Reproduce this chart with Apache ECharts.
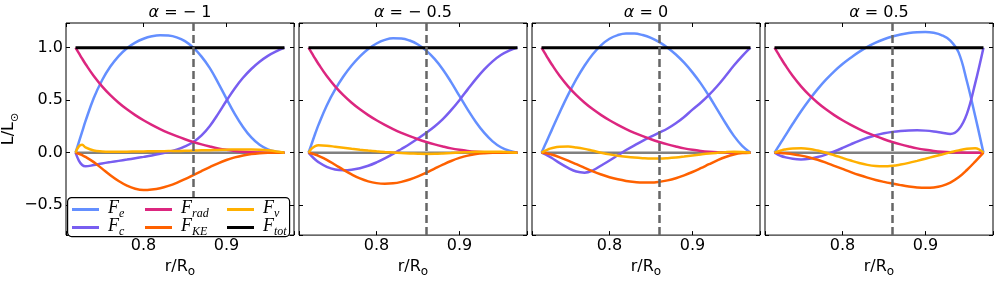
<!DOCTYPE html>
<html><head><meta charset="utf-8">
<script src="https://cdn.jsdelivr.net/npm/echarts@6/dist/echarts.min.js"></script>
<style>html,body{margin:0;padding:0;background:#fff}#c{width:997px;height:283px}</style>
</head><body><div id="c"></div>
<script>
// ---------- data ----------
const r = [0.718,0.722,0.726,0.73,0.74,0.75,0.76,0.77,0.78,0.79,0.80,0.81,0.82,0.83,0.84,0.85,0.86,0.87,0.88,0.89,0.90,0.91,0.92,0.93,0.94,0.95,0.96,0.97];
const rcz = 0.86;
const alphaLabels = ['− 1', '− 0.5', '0', '0.5'];
const xTicks = [0.8, 0.9];
const xTickText = ['0.8', '0.9'];
const yTicks = [-0.5, 0, 0.5, 1.0];
const yTickText = ['−0.5', '0.0', '0.5', '1.0'];

// radiative flux (same in every panel)
const Frad = [1.0,0.948,0.895,0.845,0.73,0.632,0.548,0.476,0.413,0.358,0.309,0.265,0.225,0.189,0.157,0.128,0.102,0.079,0.059,0.041,0.027,0.016,0.008,0.003,0.001,0,0,0];
// total
const Ftot = [1,1,1,1,1,1,1,1,1,1,1,1,1,1,1,1,1,1,1,1,1,1,1,1,1,1,1,1];

// alpha = -1
const Fe_m1  = [0,0.10,0.20,0.30,0.52,0.69,0.82,0.92,0.995,1.048,1.085,1.108,1.118,1.115,1.098,1.062,1.0,0.915,0.805,0.665,0.515,0.37,0.245,0.145,0.075,0.032,0.01,0];
const Fc_m1  = [0,-0.075,-0.118,-0.13,-0.118,-0.103,-0.09,-0.078,-0.066,-0.053,-0.04,-0.026,-0.01,0.007,0.029,0.06,0.102,0.165,0.255,0.37,0.495,0.612,0.713,0.797,0.866,0.922,0.965,1.0];
const FKE_m1 = [0,-0.01,-0.024,-0.04,-0.09,-0.152,-0.215,-0.27,-0.314,-0.343,-0.355,-0.35,-0.338,-0.316,-0.287,-0.252,-0.214,-0.175,-0.137,-0.101,-0.07,-0.045,-0.026,-0.013,-0.005,-0.001,0,0];
const Fnu_m1 = [0,0.06,0.075,0.05,0.02,0.012,0.01,0.01,0.01,0.011,0.012,0.013,0.014,0.015,0.016,0.018,0.02,0.022,0.024,0.026,0.028,0.03,0.031,0.031,0.029,0.023,0.012,0];
// alpha = -0.5
const Fe_m05  = [0,0.09,0.18,0.265,0.45,0.6,0.725,0.83,0.918,0.988,1.04,1.074,1.09,1.088,1.068,1.03,0.972,0.893,0.793,0.672,0.54,0.41,0.29,0.188,0.108,0.052,0.018,0];
const Fc_m05  = [0,-0.035,-0.065,-0.09,-0.135,-0.16,-0.167,-0.162,-0.148,-0.125,-0.093,-0.055,-0.012,0.035,0.083,0.135,0.19,0.25,0.32,0.405,0.5,0.603,0.703,0.793,0.87,0.93,0.972,1.0];
const FKE_m05 = [0,-0.008,-0.018,-0.03,-0.068,-0.115,-0.163,-0.207,-0.245,-0.273,-0.29,-0.296,-0.292,-0.278,-0.256,-0.226,-0.19,-0.152,-0.114,-0.079,-0.05,-0.028,-0.013,-0.005,-0.001,0,0,0];
const Fnu_m05 = [0,0.04,0.062,0.07,0.066,0.057,0.047,0.037,0.028,0.02,0.013,0.007,0.002,-0.003,-0.007,-0.01,-0.012,-0.011,-0.008,-0.004,0.001,0.005,0.008,0.01,0.01,0.008,0.004,0];
// alpha = 0
const Fe_0  = [0,0.07,0.14,0.21,0.385,0.55,0.7,0.83,0.94,1.025,1.085,1.12,1.135,1.135,1.12,1.093,1.053,1.0,0.935,0.857,0.765,0.66,0.54,0.41,0.28,0.16,0.065,0];
const Fc_0  = [0,-0.013,-0.03,-0.048,-0.1,-0.145,-0.18,-0.19,-0.168,-0.122,-0.075,-0.025,0.025,0.07,0.113,0.152,0.19,0.23,0.28,0.34,0.41,0.475,0.55,0.635,0.73,0.83,0.92,1.0];
const FKE_0 = [0,-0.004,-0.01,-0.018,-0.045,-0.076,-0.11,-0.145,-0.178,-0.208,-0.234,-0.254,-0.269,-0.279,-0.285,-0.285,-0.278,-0.264,-0.243,-0.216,-0.184,-0.148,-0.11,-0.073,-0.041,-0.017,-0.004,0];
const Fnu_0 = [0,0.018,0.032,0.042,0.056,0.058,0.05,0.036,0.018,0,-0.016,-0.029,-0.039,-0.047,-0.052,-0.055,-0.055,-0.052,-0.046,-0.037,-0.027,-0.017,-0.008,-0.001,0.005,0.008,0.006,0];
// alpha = 0.5
const Fe_p05  = [0,0.05,0.1,0.15,0.275,0.395,0.505,0.605,0.695,0.775,0.845,0.905,0.96,1.008,1.048,1.08,1.106,1.126,1.14,1.148,1.15,1.142,1.118,1.068,0.955,0.68,0.35,0];
const Fc_p05  = [0,-0.018,-0.032,-0.042,-0.058,-0.064,-0.058,-0.042,-0.018,0.012,0.045,0.08,0.113,0.142,0.166,0.185,0.198,0.207,0.212,0.213,0.21,0.202,0.19,0.178,0.22,0.37,0.66,1.0];
const FKE_p05 = [0,-0.001,-0.003,-0.006,-0.015,-0.028,-0.046,-0.068,-0.095,-0.125,-0.155,-0.185,-0.213,-0.238,-0.26,-0.278,-0.294,-0.309,-0.322,-0.331,-0.335,-0.331,-0.316,-0.285,-0.235,-0.165,-0.085,0];
const Fnu_p05 = [0,0.012,0.022,0.03,0.04,0.041,0.035,0.02,0,-0.024,-0.05,-0.075,-0.098,-0.116,-0.127,-0.13,-0.125,-0.113,-0.097,-0.078,-0.058,-0.037,-0.017,0.003,0.022,0.037,0.042,0];

const panelData = [
  {Fe:Fe_m1,  Fc:Fc_m1,  Frad:Frad, FKE:FKE_m1,  Fnu:Fnu_m1,  Ftot:Ftot},
  {Fe:Fe_m05, Fc:Fc_m05, Frad:Frad, FKE:FKE_m05, Fnu:Fnu_m05, Ftot:Ftot},
  {Fe:Fe_0,   Fc:Fc_0,   Frad:Frad, FKE:FKE_0,   Fnu:Fnu_0,   Ftot:Ftot},
  {Fe:Fe_p05, Fc:Fc_p05, Frad:Frad, FKE:FKE_p05, Fnu:Fnu_p05, Ftot:Ftot}
];

// ---------- styling / layout ----------
const XMIN = 0.7065, XMAX = 0.9815, YMIN = -0.785, YMAX = 1.235;
const colors = {Fe:'#648FFF', Fc:'#785EF0', Frad:'#DC267F', FKE:'#FE6100', Fnu:'#FFB000', Ftot:'#000000'};
const seriesOrder = ['Fe','Fc','Frad','FKE','Fnu','Ftot'];
const legendSub = {Fe:'e', Fc:'c', Frad:'rad', FKE:'KE', Fnu:'ν', Ftot:'tot'};
const gridLeft = [66, 299, 532, 765];
const FONT = 'DejaVu Sans';

const pick = (ticks, texts) => v => {
  for (let k = 0; k < ticks.length; k++) if (Math.abs(v - ticks[k]) < 1e-6) return texts[k];
  return '';
};

const grid = [], xAxis = [], yAxis = [], series = [];
gridLeft.forEach((l, i) => {
  grid.push({left:l, top:20, width:228, height:223, show:true, borderColor:'#000', borderWidth:1, backgroundColor:'rgba(0,0,0,0)'});
  const tick = {show:true, inside:true, length:4, lineStyle:{color:'#000', width:1}};
  xAxis.push({
    gridIndex:i, type:'value', position:'bottom', min:XMIN, max:XMAX, splitNumber:3,
    axisLine:{show:false, onZero:false}, axisTick:tick, splitLine:{show:false},
    axisLabel:{show:true, margin:3, fontFamily:FONT, fontSize:16, color:'#000', formatter:pick(xTicks, xTickText)},
    name:'{b|r/R}{o|o}', nameLocation:'middle', nameGap:18,
    nameTextStyle:{rich:{b:{fontFamily:FONT, fontSize:16, color:'#000', padding:[0,0,3,0]}, o:{fontFamily:FONT, fontSize:12, color:'#000', verticalAlign:'bottom'}}}
  });
  xAxis.push({
    gridIndex:i, type:'value', position:'top', min:XMIN, max:XMAX, splitNumber:3,
    axisLine:{show:false, onZero:false}, axisTick:tick, splitLine:{show:false}, axisLabel:{show:false},
    name:'{a|α}{b| = ' + alphaLabels[i] + '}', nameLocation:'middle', nameGap:2,
    nameTextStyle:{rich:{a:{fontFamily:FONT, fontStyle:'italic', fontSize:16, color:'#000'}, b:{fontFamily:FONT, fontSize:16, color:'#000'}}}
  });
  yAxis.push({
    gridIndex:i, type:'value', position:'left', min:YMIN, max:YMAX,
    axisLine:{show:false, onZero:false}, axisTick:tick, splitLine:{show:false},
    axisLabel:{show:i === 0, margin:3, fontFamily:FONT, fontSize:16, color:'#000', formatter:pick(yTicks, yTickText)},
    name: i === 0 ? '{b|L/L}{o|⊙}' : '', nameLocation:'middle', nameGap:41,
    nameTextStyle:{rich:{b:{fontFamily:FONT, fontSize:16, color:'#000', padding:[0,0,3,0]}, o:{fontFamily:FONT, fontSize:11, color:'#000', verticalAlign:'bottom'}}}
  });
  yAxis.push({
    gridIndex:i, type:'value', position:'right', min:YMIN, max:YMAX,
    axisLine:{show:false, onZero:false}, axisTick:tick, splitLine:{show:false}, axisLabel:{show:false}
  });

  // zero line spanning the data range
  series.push({
    type:'line', name:'zero', xAxisIndex:2*i, yAxisIndex:2*i, z:1, silent:true,
    data:[[r[0], 0], [r[r.length-1], 0]], showSymbol:false, symbol:'none',
    lineStyle:{color:'#808080', width:2.5}
  });
  const d = panelData[i];
  seriesOrder.forEach(key => {
    const vals = d[key];
    series.push({
      type:'line', name:key, xAxisIndex:2*i, yAxisIndex:2*i, z: key === 'Ftot' ? 4 : 3,
      data: r.map((x, k) => [x, vals[k]]), smooth:0.4, showSymbol:false, symbol:'none',
      lineStyle:{color:colors[key], width: key === 'Ftot' ? 3 : 2.5}, itemStyle:{color:colors[key]}
    });
  });
  // dashed vertical line at the base of the convection zone
  series.push({
    type:'line', name:'rcz', xAxisIndex:2*i, yAxisIndex:2*i, z:10, silent:true, data:[],
    markLine:{silent:true, symbol:['none','none'], label:{show:false},
      lineStyle:{color:'#666666', width:2.5, type:[8,4]}, data:[{xAxis:rcz}]}
  });
});

const legendPos = {Fe:[72,199], Fc:[72,217], Frad:[145,199], FKE:[145,217], Fnu:[227,199], Ftot:[227,217]};
const legend = seriesOrder.map(key => ({
  data:[key], left:legendPos[key][0], top:legendPos[key][1], padding:0, z:60,
  itemWidth:27, itemHeight:14, icon:'path://M0,0L27,0L27,3L0,3Z', symbolKeepAspect:true,
  itemStyle:{color:colors[key]},
  formatter: n => '{F|F}{s|' + legendSub[n] + '}',
  textStyle:{rich:{
    F:{fontFamily:'Liberation Serif', fontStyle:'italic', fontSize:18, color:'#000', padding:[0,0,3,4]},
    s:{fontFamily:'Liberation Serif', fontStyle:'italic', fontSize:12, color:'#000', verticalAlign:'bottom'}
  }}
}));

const option = {
  animation:false,
  backgroundColor:'#fff',
  grid, xAxis, yAxis, series, legend,
  graphic:[{type:'rect', left:67, top:197, z:50, silent:true,
    shape:{width:222, height:39, r:4}, style:{fill:'#fff', stroke:'#000', lineWidth:1.2}}]
};
const chart = echarts.init(document.getElementById('c'), null, {renderer:'canvas'});
chart.setOption(option);
</script>
</body></html>
